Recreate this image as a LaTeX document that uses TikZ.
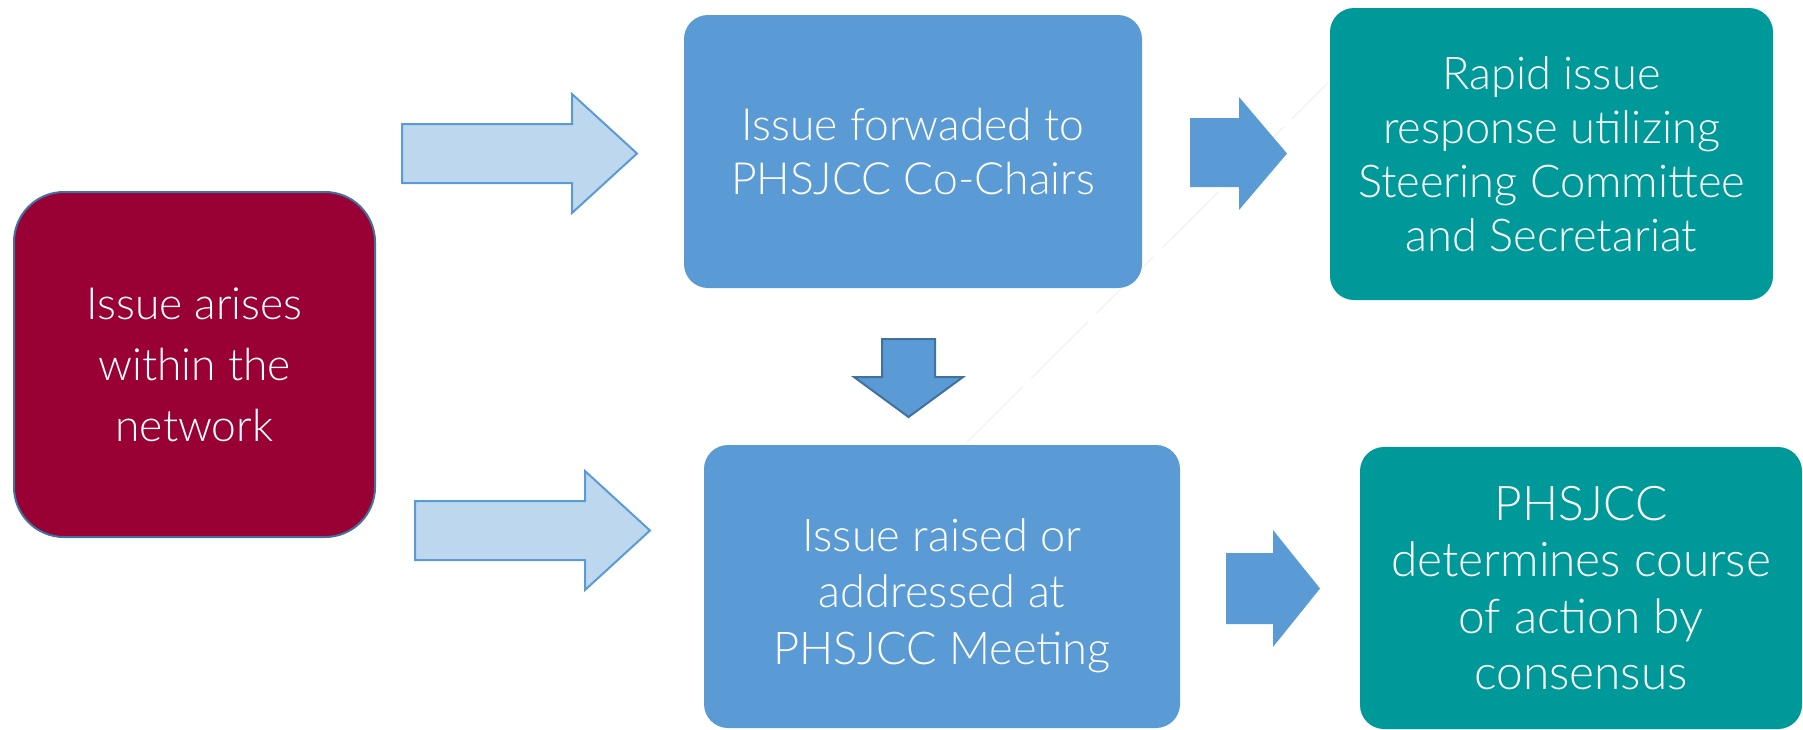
\documentclass[tikz,border=0pt]{standalone}
\usepackage{fontspec}
\setmainfont{Lato Light}

\definecolor{issuered}{HTML}{990033}
\definecolor{edgeblue}{HTML}{41719C}
\definecolor{stepblue}{HTML}{5B9BD5}
\definecolor{paleblue}{HTML}{BDD7EE}
\definecolor{outcometeal}{HTML}{009999}

\tikzset{
  box/.style={rounded corners=12pt, text=white, align=center, inner sep=0pt},
  bigarrow/.style={fill=paleblue, draw=stepblue, line width=1pt},
  smallarrow/.style={fill=stepblue},
}

\begin{document}
\begin{tikzpicture}[x=0.5pt,y=-0.5pt]
  \useasboundingbox (0,0) rectangle (1803,729);

  % faint trace behind the boxes
  \draw[gray!10, line width=0.6pt, dash pattern=on 40pt off 6pt] (966,443) -- (1328,83);

  % boxes
  \node[box, fill=issuered, draw=edgeblue, line width=1pt, rounded corners=25pt,
        minimum width=180.5pt, minimum height=172.5pt,
        font=\fontsize{22.2}{30.5}\selectfont] (arise) at (194.5,364.5)
        {Issue arises\\within the\\network};
  \node[box, fill=stepblue, minimum width=229pt, minimum height=136.5pt,
        font=\fontsize{22.2}{27}\selectfont] (cochairs) at (913,151.5)
        {Issue forwaded to\\PHSJCC Co-Chairs};
  \node[box, fill=stepblue, minimum width=238pt, minimum height=141.5pt]
        (meeting) at (942,586.5) {};
  \node[box, font=\fontsize{22.6}{28.3}\selectfont] (meetingtext)
        at ([yshift=-4.5pt]meeting.center)
        {Issue raised or\\addressed at\\PHSJCC Meeting};
  \node[box, fill=outcometeal, minimum width=221.5pt, minimum height=146pt,
        font=\fontsize{22.6}{27}\selectfont] (rapid) at (1551.5,154)
        {Rapid issue\\response utilizing\\Steering Committee\\and Secretariat};
  \node[box, fill=outcometeal, minimum width=221pt, minimum height=141pt,
        font=\fontsize{23.9}{28.3}\selectfont] (consensus) at (1581,588)
        {PHSJCC\\determines course\\of action by\\consensus};

  % arrows out of the first box
  \draw[bigarrow] (402,124) -- (572,124) -- (572,94) -- (637,153.5)
    -- (572,213) -- (572,183) -- (402,183) -- cycle;
  \draw[bigarrow] (415,501) -- (585,501) -- (585,471) -- (650,530.5)
    -- (585,590) -- (585,560) -- (415,560) -- cycle;

  % co-chairs down to meeting
  \draw[fill=stepblue, draw=edgeblue, line width=1pt] (882,339) -- (935,339)
    -- (935,377) -- (963,377) -- (908.5,417) -- (854,377) -- (882,377) -- cycle;

  % arrows into the outcomes
  \fill[smallarrow] (1190,118) -- (1239,118) -- (1239,97) -- (1287,153.5)
    -- (1239,210) -- (1239,187) -- (1190,187) -- cycle;
  \fill[smallarrow] (1226,553) -- (1273,553) -- (1273,530) -- (1320,588.5)
    -- (1273,647) -- (1273,624) -- (1226,624) -- cycle;
\end{tikzpicture}
\end{document}
